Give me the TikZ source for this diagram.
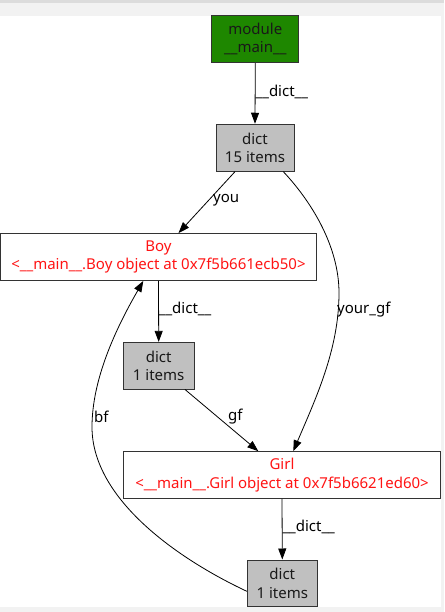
\documentclass[tikz,border=0pt]{standalone}
\usepackage{fontspec}
\setmainfont{Noto Sans}
\usetikzlibrary{arrows.meta}
\definecolor{modgreen}{RGB}{30,135,0}
\definecolor{dictgray}{RGB}{192,192,192}
\definecolor{bordergray}{RGB}{51,51,51}
\definecolor{objred}{RGB}{255,20,20}
\definecolor{bandgray}{RGB}{242,242,242}
\definecolor{topgray}{RGB}{220,220,220}
\tikzset{
  box/.style={draw=bordergray, line width=0.9pt, inner sep=0pt, align=center,
    font=\fontsize{15}{18.5}\selectfont},
  modbox/.style={box, fill=modgreen, text=black!90},
  dictbox/.style={box, fill=dictgray, text=black!90},
  objbox/.style={box, fill=white, text=objred},
  edge/.style={draw=black, line width=0.8pt, -{Triangle[length=11pt,width=8pt]}},
  elabel/.style={inner sep=0pt, font=\fontsize{15}{18}\selectfont, anchor=west}
}
\begin{document}
\begin{tikzpicture}[x=1pt,y=-1pt]
\useasboundingbox (0,0) rectangle (444,612);
\fill[bandgray] (0,0) rectangle (444,612);
\fill[topgray] (0,0) rectangle (444,3);
\fill[white] (0,16) rectangle (441,607);

\node[modbox, minimum width=87pt, minimum height=47pt] (mod) at (255.3,39.2) {module\\\_\_main\_\_};
\node[dictbox, minimum width=78pt, minimum height=47pt] (d15) at (255,147.7) {dict\\15 items};
\node[objbox, minimum width=316pt, minimum height=47pt] (boy) at (158.5,257) {Boy\\<\_\_main\_\_.Boy object at 0x7f5b661ecb50>};
\node[dictbox, minimum width=70.5pt, minimum height=46.7pt] (d1) at (158.7,365.7) {dict\\1 items};
\node[objbox, minimum width=317pt, minimum height=46.7pt] (girl) at (282,475) {Girl\\<\_\_main\_\_.Girl object at 0x7f5b6621ed60>};
\node[dictbox, minimum width=70pt, minimum height=46.7pt] (d2) at (282.3,583.3) {dict\\1 items};

% edges
\draw[edge] (mod.south) -- (d15.north);
\node[elabel] (l1) at (255.5,92) {\_\_dict\_\_};

\draw[edge] ([xshift=-20pt]d15.south) -- ([xshift=20pt]boy.north);
\node[elabel] (l2) at (213,200) {you};

\draw[edge] ([xshift=28.3pt]d15.south) .. controls (310,200) and (339,245) .. (339,293)
  .. controls (339,350) and (315,400) .. ([xshift=11.3pt]girl.north);
\node[elabel] (l3) at (337,310) {your\_gf};

\draw[edge] (boy.south) -- (d1.north);
\node[elabel] (l4) at (158.7,309) {\_\_dict\_\_};

\draw[edge] ([xshift=26.3pt]d1.south) -- ([xshift=-23.7pt]girl.north);
\node[elabel] (l5) at (228,417) {gf};

\draw[edge] (girl.south) -- (d2.north);
\node[elabel] (l6) at (282.3,527) {\_\_dict\_\_};

\draw[edge] ([yshift=-8pt]d2.west) .. controls (180,560) and (92,500) .. (92,427)
  .. controls (92,380) and (115,330) .. ([xshift=-15.2pt]boy.south);
\node[elabel] (l7) at (94,417) {bf};
\end{tikzpicture}
\end{document}
